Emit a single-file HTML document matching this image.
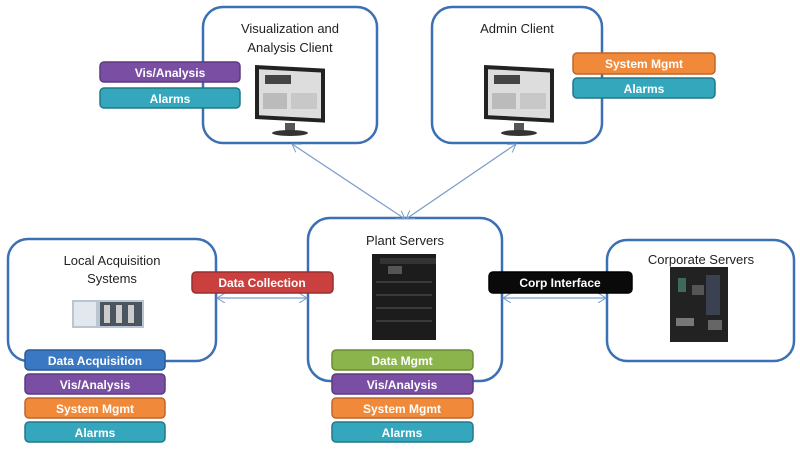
<!DOCTYPE html>
<html><head><meta charset="utf-8"><style>
html,body{margin:0;padding:0;background:#fff;}
svg{display:block;font-family:"Liberation Sans",sans-serif;}
.t{font-size:13px;fill:#222;text-anchor:middle;}
.l{font-size:12px;font-weight:bold;fill:#fff;text-anchor:middle;}
</style></head><body>
<svg width="800" height="456" viewBox="0 0 800 456" xmlns="http://www.w3.org/2000/svg">
<defs>
<marker id="a" markerWidth="10" markerHeight="10" refX="8" refY="5" orient="auto-start-reverse" markerUnits="userSpaceOnUse">
<path d="M0,0 L8,5 L0,10" fill="none" stroke="#7a9cc6" stroke-width="1"/></marker>
<g id="mon">
<rect x="0" y="0" width="70" height="54" fill="#222" transform="skewY(3)"/>
<rect x="4" y="4" width="62" height="46" fill="#ddd" transform="skewY(3)"/>
<rect x="10" y="10" width="26" height="9" fill="#444"/>
<rect x="8" y="28" width="24" height="16" fill="#bbb"/>
<rect x="36" y="28" width="26" height="16" fill="#c8c8c8"/>
<rect x="30" y="58" width="10" height="8" fill="#555"/>
<ellipse cx="35" cy="68" rx="18" ry="3" fill="#333"/>
</g>
</defs>
<!-- boxes -->
<g fill="#fff" stroke="#3b70b5" stroke-width="2.5">
<rect x="203" y="7" width="174" height="136" rx="20"/>
<rect x="432" y="7" width="170" height="136" rx="20"/>
<rect x="8" y="239" width="208" height="122" rx="20"/>
<rect x="308" y="218" width="194" height="163" rx="22"/>
<rect x="607" y="240" width="187" height="121" rx="20"/>
</g>
<!-- arrows -->
<g stroke="#7a9cc6" stroke-width="1.2" fill="none">
<line x1="292" y1="144" x2="405" y2="219" marker-start="url(#a)" marker-end="url(#a)"/>
<line x1="516" y1="144" x2="406" y2="219" marker-start="url(#a)" marker-end="url(#a)"/>
<line x1="217" y1="298" x2="307" y2="298" marker-start="url(#a)" marker-end="url(#a)"/>
<line x1="503" y1="298" x2="606" y2="298" marker-start="url(#a)" marker-end="url(#a)"/>
</g>
<!-- titles -->
<text class="t" x="290" y="33">Visualization and</text>
<text class="t" x="290" y="52">Analysis Client</text>
<text class="t" x="517" y="33">Admin Client</text>
<text class="t" x="112" y="265">Local Acquisition</text>
<text class="t" x="112" y="283">Systems</text>
<text class="t" x="405" y="245">Plant Servers</text>
<text class="t" x="701" y="264">Corporate Servers</text>
<!-- monitors -->
<use href="#mon" x="255" y="65"/>
<use href="#mon" x="484" y="65"/>
<!-- acquisition -->
<rect x="72" y="300" width="72" height="28" fill="#b9c6d2"/>
<rect x="74" y="302" width="22" height="24" fill="#e3e8ee"/>
<rect x="100" y="302" width="42" height="24" fill="#4a5560"/>
<rect x="104" y="305" width="6" height="18" fill="#ccc"/><rect x="116" y="305" width="6" height="18" fill="#ccc"/><rect x="128" y="305" width="6" height="18" fill="#ccc"/>
<!-- plant server -->
<rect x="372" y="254" width="64" height="86" fill="#1c1c1c"/>
<rect x="380" y="258" width="56" height="6" fill="#333"/>
<g stroke="#3a3a3a" stroke-width="2"><line x1="376" y1="282" x2="432" y2="282"/><line x1="376" y1="295" x2="432" y2="295"/><line x1="376" y1="308" x2="432" y2="308"/><line x1="376" y1="321" x2="432" y2="321"/></g>
<rect x="388" y="266" width="14" height="8" fill="#555"/>
<!-- corporate server -->
<rect x="670" y="267" width="58" height="75" fill="#222"/>
<rect x="678" y="278" width="8" height="14" fill="#3d6a5a"/><rect x="692" y="285" width="12" height="10" fill="#555"/><rect x="706" y="275" width="14" height="40" fill="#3a4150"/><rect x="676" y="318" width="18" height="8" fill="#777"/><rect x="708" y="320" width="14" height="10" fill="#666"/>
<!-- labels -->
<g stroke-width="1.5">
<rect x="100" y="62" width="140" height="20" rx="4" fill="#7a4fa3" stroke="#5d3a80"/>
<rect x="100" y="88" width="140" height="20" rx="4" fill="#35a7bd" stroke="#23788a"/>
<rect x="573" y="53" width="142" height="21" rx="4" fill="#f08a3a" stroke="#c0652a"/>
<rect x="573" y="78" width="142" height="20" rx="4" fill="#35a7bd" stroke="#23788a"/>
<rect x="192" y="272" width="141" height="21" rx="4" fill="#c9403f" stroke="#9a2e2d"/>
<rect x="489" y="272" width="143" height="21" rx="4" fill="#0a0a0a" stroke="#000"/>
<rect x="25" y="350" width="140" height="20" rx="4" fill="#3a78c3" stroke="#2a5a95"/>
<rect x="25" y="374" width="140" height="20" rx="4" fill="#7a4fa3" stroke="#5d3a80"/>
<rect x="25" y="398" width="140" height="20" rx="4" fill="#f08a3a" stroke="#c0652a"/>
<rect x="25" y="422" width="140" height="20" rx="4" fill="#35a7bd" stroke="#23788a"/>
<rect x="332" y="350" width="141" height="20" rx="4" fill="#8bb44c" stroke="#6a8c34"/>
<rect x="332" y="374" width="141" height="20" rx="4" fill="#7a4fa3" stroke="#5d3a80"/>
<rect x="332" y="398" width="141" height="20" rx="4" fill="#f08a3a" stroke="#c0652a"/>
<rect x="332" y="422" width="141" height="20" rx="4" fill="#35a7bd" stroke="#23788a"/>
</g>
<text class="l" x="170" y="77">Vis/Analysis</text>
<text class="l" x="170" y="103">Alarms</text>
<text class="l" x="644" y="68">System Mgmt</text>
<text class="l" x="644" y="93">Alarms</text>
<text class="l" x="262" y="287">Data Collection</text>
<text class="l" x="560" y="287">Corp Interface</text>
<text class="l" x="95" y="365">Data Acquisition</text>
<text class="l" x="95" y="389">Vis/Analysis</text>
<text class="l" x="95" y="413">System Mgmt</text>
<text class="l" x="95" y="437">Alarms</text>
<text class="l" x="402" y="365">Data Mgmt</text>
<text class="l" x="402" y="389">Vis/Analysis</text>
<text class="l" x="402" y="413">System Mgmt</text>
<text class="l" x="402" y="437">Alarms</text>
</svg>
</body></html>
